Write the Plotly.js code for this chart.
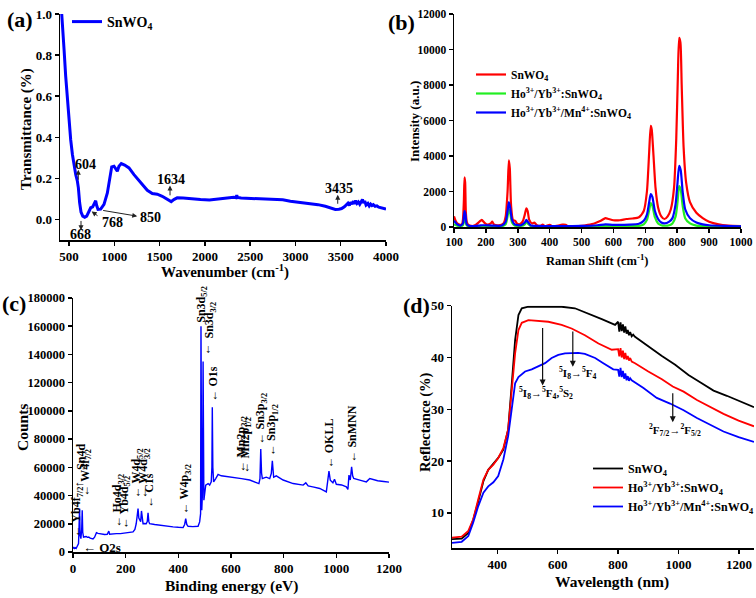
<!DOCTYPE html>
<html>
<head>
<meta charset="utf-8">
<script src="https://cdn.plot.ly/plotly-3.0.1.min.js"></script>
<style>
html,body{margin:0;padding:0;background:#fff;overflow:hidden;}
#chart{width:756px;height:598px;}
</style>
</head>
<body>
<div id="chart"></div>
<script>
// ---------- Panel (a): FTIR ----------
const ftirWavenumber = [419, 434, 445, 463, 482, 500, 518, 537, 555, 574, 592, 603, 617, 632, 651, 673, 695, 720, 739, 761, 783, 794, 805, 820, 849, 886, 923, 952, 971, 996, 1015, 1033, 1051, 1077, 1114, 1162, 1217, 1290, 1364, 1419, 1474, 1529, 1584, 1628, 1657, 1694, 1760, 1850, 1952, 2050, 2150, 2246, 2320, 2345, 2352, 2360, 2400, 2500, 2600, 2700, 2780, 2860, 2944, 3050, 3150, 3250, 3330, 3400, 3440, 3480, 3510, 3540, 3565, 3580, 3595, 3610, 3625, 3640, 3652, 3665, 3680, 3695, 3710, 3725, 3740, 3752, 3765, 3780, 3800, 3815, 3830, 3845, 3860, 3880, 3900, 3920, 3945, 3970, 4000];
const ftirTransmittance = [1.0, 0.914, 0.825, 0.696, 0.583, 0.485, 0.388, 0.316, 0.259, 0.218, 0.186, 0.154, 0.081, 0.036, 0.016, 0.011, 0.016, 0.036, 0.057, 0.061, 0.081, 0.091, 0.068, 0.049, 0.050, 0.073, 0.129, 0.210, 0.256, 0.259, 0.243, 0.235, 0.259, 0.272, 0.265, 0.251, 0.218, 0.178, 0.142, 0.126, 0.123, 0.113, 0.100, 0.087, 0.097, 0.105, 0.104, 0.100, 0.097, 0.095, 0.098, 0.104, 0.108, 0.106, 0.118, 0.107, 0.104, 0.102, 0.100, 0.100, 0.099, 0.096, 0.089, 0.084, 0.079, 0.072, 0.064, 0.055, 0.049, 0.050, 0.053, 0.062, 0.070, 0.079, 0.068, 0.084, 0.074, 0.089, 0.075, 0.092, 0.078, 0.085, 0.074, 0.083, 0.097, 0.080, 0.090, 0.070, 0.078, 0.066, 0.075, 0.068, 0.072, 0.064, 0.066, 0.060, 0.058, 0.055, 0.050];
const ftirPeaks = ['604', '668', '768', '850', '1634', '3435'];

// ---------- Panel (b): Raman ----------
const ramanShiftRed = [100, 105, 110, 120, 125, 128, 131, 133, 135, 137, 140, 145, 150, 160, 170, 180, 187, 195, 205, 215, 220, 225, 240, 255, 262, 268, 272, 275, 279, 285, 292, 297, 305, 315, 322, 327, 331, 336, 345, 352, 360, 370, 378, 385, 400, 410, 420, 440, 450, 460, 480, 500, 520, 540, 560, 575, 585, 600, 620, 640, 660, 680, 695, 705, 712, 717, 720, 725, 732, 740, 750, 760, 770, 780, 790, 797, 802, 806, 810, 814, 820, 828, 840, 860, 880, 900, 930, 960, 1000];
const ramanSnWO4 = [600, 350, 200, 120, 150, 400, 1500, 2800, 2500, 900, 300, 120, 80, 60, 150, 300, 400, 250, 130, 200, 300, 150, 100, 200, 600, 2000, 3750, 3300, 1200, 400, 350, 200, 150, 300, 700, 1050, 900, 400, 200, 250, 100, 60, 130, 50, 120, 40, 60, 130, 120, 30, 30, 60, 120, 200, 350, 500, 450, 380, 380, 450, 480, 550, 900, 2000, 4200, 5700, 5500, 4200, 2200, 1100, 600, 450, 600, 1000, 2200, 5000, 8500, 10650, 10400, 8000, 4500, 2500, 1400, 800, 500, 300, 150, 80, 50];
const ramanShiftDoped = [100, 110, 120, 128, 131, 133, 136, 140, 150, 180, 190, 220, 250, 262, 268, 272, 276, 282, 290, 310, 322, 327, 332, 340, 360, 400, 500, 550, 575, 600, 650, 680, 695, 705, 712, 717, 722, 730, 740, 750, 760, 775, 785, 795, 801, 806, 811, 817, 825, 840, 860, 880, 900, 950, 1000];
const ramanHoYb = [150, 80, 40, 100, 300, 500, 350, 80, 30, 40, 50, 40, 40, 150, 600, 1000, 800, 250, 80, 60, 150, 300, 180, 60, 40, 30, 30, 40, 60, 50, 50, 60, 150, 400, 950, 1350, 1200, 550, 200, 100, 70, 100, 200, 600, 1400, 2300, 2100, 1200, 500, 200, 80, 50, 40, 30, 20];
const ramanHoYbMn = [350, 150, 80, 200, 600, 900, 700, 150, 50, 80, 100, 80, 80, 300, 900, 1400, 1100, 400, 150, 100, 250, 400, 280, 100, 60, 50, 60, 100, 150, 120, 130, 180, 350, 700, 1400, 1850, 1700, 900, 450, 250, 200, 300, 500, 1300, 2500, 3450, 3200, 2000, 1000, 500, 250, 150, 100, 60, 40];

// ---------- Panel (c): XPS ----------
const xpsBinding = [0, 3, 6, 9, 12, 15, 18, 21, 23, 25, 27, 30, 33, 35, 37, 40, 45, 50, 55, 60, 65, 70, 76, 82, 89, 95, 101, 110, 120, 130, 136, 139, 142, 150, 165, 180, 195, 210, 228, 235, 240, 244, 247, 250, 253, 257, 260, 263, 266, 272, 278, 282, 285, 288, 291, 310, 329, 355, 380, 400, 418, 424, 428, 432, 437, 455, 475, 481, 484.5, 486, 487.5, 489, 491, 492.5, 494, 495.5, 497, 504, 513, 519, 525, 527.5, 529, 531, 534, 542, 551, 563, 585, 608, 640, 671, 696, 706, 710, 713, 716, 719, 726, 734, 747, 753, 757, 760, 762, 772, 798, 836, 874, 884, 893, 915, 937, 962, 968, 972, 977, 987, 993, 1000, 1020, 1038, 1044, 1048, 1053, 1058, 1062, 1066, 1089, 1114, 1127, 1157, 1180, 1200];
const xpsCounts = [2400, 3500, 2500, 3000, 2500, 3800, 5000, 6000, 18000, 30800, 12000, 9500, 16000, 29500, 14000, 10500, 10800, 11000, 10400, 10600, 9800, 9500, 9200, 10500, 13700, 13200, 13000, 12500, 12400, 12600, 14800, 12600, 12700, 12800, 13000, 13000, 13400, 13300, 14200, 16000, 20000, 26000, 30800, 24000, 22500, 21500, 29100, 22500, 20100, 20200, 20000, 21500, 27700, 21500, 20100, 19500, 18900, 18400, 17800, 17500, 17300, 19500, 23700, 19500, 18200, 18000, 18200, 21300, 27200, 160000, 40000, 29600, 39000, 60000, 135000, 50000, 36700, 47400, 48500, 47400, 49700, 60000, 102500, 60000, 49700, 52000, 55000, 54000, 53500, 53000, 52000, 51000, 49000, 48500, 52000, 73000, 56000, 52000, 52500, 53000, 52000, 55600, 64600, 56000, 53000, 54000, 51000, 48500, 47400, 49000, 46800, 46000, 45000, 42600, 49700, 57300, 50900, 49000, 51600, 48000, 47500, 46200, 44300, 54500, 51000, 60400, 54000, 52100, 50900, 49700, 52100, 50500, 50000, 49500];
const xpsLabels = ['Yb4f<sub>7/2</sub>', 'Sn4d', 'W4f<sub>7/2</sub>', 'O2s', 'Ho4d<sub>3/2</sub>', 'Yb4d<sub>5/2</sub>', 'W4d<sub>5/2</sub>', 'W4d<sub>3/2</sub>', 'C1s', 'W4p<sub>3/2</sub>', 'Sn3d<sub>5/2</sub>', 'Sn3d<sub>3/2</sub>', 'O1s', 'Mn2p<sub>3/2</sub>', 'Mn2p<sub>1/2</sub>', 'Sn3p<sub>3/2</sub>', 'Sn3p<sub>1/2</sub>', 'OKLL', 'SnMNN'];

// ---------- Panel (d): Diffuse reflectance ----------
const drsWavelengthBlack = [250, 282, 304, 320, 337, 354, 370, 387, 403, 420, 436, 448, 459, 470, 481, 503, 558, 613, 657, 701, 746, 790, 800, 804, 808, 812, 816, 820, 824, 828, 832, 836, 840, 845, 850, 856, 900, 945, 989, 1033, 1077, 1116, 1160, 1205, 1250];
const drsSnWO4 = [4.9, 5.0, 6.1, 8.6, 12.2, 16.1, 18.3, 19.6, 20.6, 22.2, 26.1, 35.0, 43.4, 48.2, 49.5, 49.8, 49.8, 49.8, 49.5, 48.5, 47.4, 46.3, 46.9, 45.0, 46.8, 45.1, 46.4, 44.8, 46.0, 44.6, 45.3, 44.3, 44.9, 44.1, 44.4, 44.0, 42.1, 40.3, 38.6, 36.6, 35.0, 33.6, 32.6, 31.5, 30.4];
const drsWavelengthRed = [250, 282, 304, 320, 337, 354, 370, 387, 403, 420, 436, 448, 459, 470, 481, 503, 525, 547, 569, 613, 646, 690, 735, 779, 800, 804, 808, 812, 816, 820, 824, 828, 832, 836, 840, 845, 856, 900, 945, 981, 1017, 1061, 1105, 1149, 1199, 1250];
const drsHoYb = [5.2, 5.4, 6.5, 8.7, 12.6, 16.4, 18.3, 19.3, 20.6, 22.5, 26.1, 33.8, 40.8, 45.3, 46.7, 47.2, 47.1, 46.9, 46.9, 46.3, 45.6, 44.3, 42.7, 41.5, 41.6, 40.2, 41.8, 40.0, 41.3, 39.7, 40.9, 39.6, 40.3, 39.4, 39.9, 39.2, 38.9, 37.3, 35.8, 34.4, 33.4, 31.8, 30.5, 29.1, 27.8, 26.7];
const drsWavelengthBlue = [250, 282, 304, 320, 337, 354, 370, 387, 403, 420, 436, 448, 459, 470, 492, 514, 536, 558, 580, 602, 624, 646, 668, 690, 724, 751, 784, 800, 804, 808, 812, 816, 820, 824, 828, 832, 836, 840, 845, 884, 928, 972, 1017, 1061, 1105, 1149, 1199, 1250];
const drsHoYbMn = [4.2, 4.4, 5.5, 8.1, 11.3, 13.9, 15.1, 15.9, 17.1, 20.3, 24.8, 30.5, 35.0, 36.2, 37.3, 37.7, 38.3, 38.9, 39.9, 40.5, 40.8, 40.9, 40.9, 40.7, 39.9, 38.9, 37.7, 37.6, 36.3, 38.0, 36.2, 37.4, 35.9, 36.9, 35.6, 36.4, 35.5, 36.0, 35.6, 34.1, 32.2, 31.1, 29.8, 28.3, 27.0, 25.7, 24.6, 23.7];

const seriesNames = ['SnWO<sub>4</sub>', 'Ho<sup>3+</sup>/Yb<sup>3+</sup>:SnWO<sub>4</sub>', 'Ho<sup>3+</sup>/Yb<sup>3+</sup>/Mn<sup>4+</sup>:SnWO<sub>4</sub>'];
const panelLetters = ['(a)', '(b)', '(c)', '(d)'];
const axisTitles = ['Wavenumber (cm<sup>-1</sup>)', 'Transmittance (%)', 'Raman Shift (cm<sup>-1</sup>)', 'Intensity (a.u.)',
  'Binding energy (eV)', 'Counts', 'Wavelength (nm)', 'Reflectance (%)'];

// ---------- build ----------
const FONT = '"Liberation Serif", "Times New Roman", serif';
const BLUE = '#0000ff', RED = '#ff0000', GREEN = '#22ee22', BLACK = '#000000';

const traces = [
  {x: ftirWavenumber, y: ftirTransmittance, xaxis: 'x', yaxis: 'y', mode: 'lines', name: seriesNames[0], line: {color: BLUE, width: 3}, legend: 'legend'},
  {x: ramanShiftRed, y: ramanSnWO4, xaxis: 'x2', yaxis: 'y2', mode: 'lines', name: seriesNames[0], line: {color: RED, width: 2.2, shape: 'spline', smoothing: 0.6}, legend: 'legend2'},
  {x: ramanShiftDoped, y: ramanHoYb, xaxis: 'x2', yaxis: 'y2', mode: 'lines', name: seriesNames[1], line: {color: GREEN, width: 2.2, shape: 'spline', smoothing: 0.6}, legend: 'legend2'},
  {x: ramanShiftDoped, y: ramanHoYbMn, xaxis: 'x2', yaxis: 'y2', mode: 'lines', name: seriesNames[2], line: {color: BLUE, width: 2.2, shape: 'spline', smoothing: 0.6}, legend: 'legend2'},
  {x: xpsBinding, y: xpsCounts, xaxis: 'x3', yaxis: 'y3', mode: 'lines', name: 'XPS', showlegend: false, line: {color: BLUE, width: 1.4}},
  {x: drsWavelengthBlack, y: drsSnWO4, xaxis: 'x4', yaxis: 'y4', mode: 'lines', name: seriesNames[0], line: {color: BLACK, width: 1.8}, legend: 'legend3'},
  {x: drsWavelengthRed, y: drsHoYb, xaxis: 'x4', yaxis: 'y4', mode: 'lines', name: seriesNames[1], line: {color: RED, width: 1.8}, legend: 'legend3'},
  {x: drsWavelengthBlue, y: drsHoYbMn, xaxis: 'x4', yaxis: 'y4', mode: 'lines', name: seriesNames[2], line: {color: BLUE, width: 1.8}, legend: 'legend3'}
];

function axis(extra, fsize) {
  return Object.assign({
    showline: true, linecolor: '#000', linewidth: 1.5, ticks: 'outside', ticklen: 4, tickwidth: 1.5,
    tickcolor: '#000', showgrid: false, zeroline: false, mirror: false, exponentformat: 'none', separatethousands: false,
    tickfont: {family: FONT, size: fsize || 13, color: '#000', weight: 'bold'}
  }, extra);
}
const W = 756, H = 598;
const px = v => v / W, py = v => 1 - v / H;

const annotations = [];
// panel letters
[[20, 20], [401, 23], [14, 303], [416, 305]].forEach((p, i) => {
  annotations.push({xref: 'paper', yref: 'paper', x: px(p[0]), y: py(p[1]), text: '<b>' + panelLetters[i] + '</b>',
    showarrow: false, font: {family: FONT, size: 22, color: '#000'}, xanchor: 'center', yanchor: 'middle'});
});
// axis titles (paper positions: [cx, cy, angle, size])
const titlePos = [[225, 272, 0, 15], [27, 129, -90, 15], [597, 260, 0, 12.5], [415, 122, -90, 13],
  [231, 586, 0, 15.5], [22, 428, -90, 15.5], [612, 582, 0, 15.5], [425, 422, -90, 14.5]];
titlePos.forEach((p, i) => annotations.push({xref: 'paper', yref: 'paper', x: px(p[0]), y: py(p[1]), text: axisTitles[i],
  textangle: p[2], showarrow: false, xanchor: 'center', yanchor: 'middle',
  font: {family: FONT, size: p[3], color: '#000', weight: 'bold'}}));

// panel (a) peak labels and arrows
const aFont = {family: FONT, size: 14, color: '#000', weight: 'bold'};
const aText = [[684, 0.267], [628, -0.073], [978, -0.013], [1400, 0.008], [1622, 0.194], [3478, 0.150]];
aText.forEach((p, i) => annotations.push({xref: 'x', yref: 'y', x: p[0], y: p[1], text: ftirPeaks[i], showarrow: false, font: aFont}));
const aArrows = [ // [tailX, tailY, headX, headY]
  [602, 0.186, 602, 0.242], [632, 0.0, 632, -0.052], [831, 0.013, 750, 0.039],
  [860, 0.045, 1253, 0.016], [1615, 0.110, 1615, 0.165], [3467, 0.069, 3467, 0.120]
];
aArrows.forEach(a => annotations.push({xref: 'x', yref: 'y', axref: 'x', ayref: 'y', x: a[2], y: a[3], ax: a[0], ay: a[1],
  text: '', showarrow: true, arrowhead: 2, arrowsize: 1, arrowwidth: 1, arrowcolor: '#222', standoff: 0, startstandoff: 0}));

// panel (c) labels: [label index, x, bottom y, prefix arrow]
const cFont = {family: FONT, size: 12, color: '#000', weight: 'bold'};
const cRot = [
  [0, 14, 9200, true], [1, 30, 56700, false], [2, 50, 37600, true], [4, 172, 16100, true], [5, 197, 15100, true],
  [6, 242, 36400, true], [7, 269, 36400, true], [8, 290, 29800, true], [9, 426, 25500, true],
  [10, 491, 160900, false], [11, 520, 150200, false], [12, 532, 104900, true], [13, 640, 54600, true],
  [14, 655, 54600, true], [15, 713, 74600, true], [16, 758, 66400, true], [17, 973, 58100, true], [18, 1060, 61700, true]
];
cRot.forEach(c => annotations.push({xref: 'x3', yref: 'y3', x: c[1], y: c[2], text: (c[3] ? '\u2190 ' : '') + xpsLabels[c[0]],
  textangle: -90, showarrow: false, xanchor: 'center', yanchor: 'bottom', font: cFont}));
annotations.push({xref: 'x3', yref: 'y3', x: 503, y: 138400, text: '\u2190', textangle: -90, showarrow: false, xanchor: 'center', yanchor: 'bottom', font: cFont});
annotations.push({xref: 'x3', yref: 'y3', x: 26, y: 49600, text: '\u2190', showarrow: false, xanchor: 'center', yanchor: 'middle', font: cFont});
annotations.push({xref: 'x3', yref: 'y3', x: 32, y: 3200, text: '\u2190 ' + xpsLabels[3], showarrow: false, xanchor: 'left', yanchor: 'middle', font: {family: FONT, size: 13, color: '#000', weight: 'bold'}});

// panel (d) transition labels and arrows
const dFont = {family: FONT, size: 11, color: '#000', weight: 'bold'};
const dLabels = ['<sup>5</sup>I<sub>8</sub>\u2192<sup>5</sup>F<sub>4</sub>,<sup>5</sup>S<sub>2</sub>', '<sup>5</sup>I<sub>8</sub>\u2192<sup>5</sup>F<sub>4</sub>', '<sup>2</sup>F<sub>7/2</sub>\u2192<sup>2</sup>F<sub>5/2</sub>'];
const dText = [[560, 33.2], [668, 37.0], [990, 26.0]];
dText.forEach((p, i) => annotations.push({xref: 'x4', yref: 'y4', x: p[0], y: p[1], text: dLabels[i], showarrow: false, font: dFont}));
const dArrows = [[550, 46.0, 550, 34.6], [650, 45.3, 650, 38.2], [981, 33.4, 981, 27.5]];
dArrows.forEach(a => annotations.push({xref: 'x4', yref: 'y4', axref: 'x4', ayref: 'y4', x: a[2], y: a[3], ax: a[0], ay: a[1],
  text: '', showarrow: true, arrowhead: 2, arrowsize: 1, arrowwidth: 1.2, arrowcolor: '#111', standoff: 0, startstandoff: 0}));

const legendFont = s => ({family: FONT, size: s, color: '#000', weight: 'bold'});

const layout = {
  width: W, height: H, margin: {l: 0, r: 0, t: 0, b: 0, autoexpand: false},
  paper_bgcolor: '#fff', plot_bgcolor: 'rgba(0,0,0,0)', showlegend: true,
  font: {family: FONT, color: '#000'},
  xaxis: axis({domain: [px(60), px(386)], range: [400, 4000], tickvals: [500, 1000, 1500, 2000, 2500, 3000, 3500, 4000], anchor: 'y'}, 13),
  yaxis: axis({domain: [py(240), py(14)], range: [-0.1, 1.0], tickvals: [0, 0.2, 0.4, 0.6, 0.8, 1.0], tickformat: '.1f', anchor: 'x'}, 13),
  xaxis2: axis({domain: [px(454), px(741)], range: [100, 1000], dtick: 100, tick0: 100, anchor: 'y2'}, 11.5),
  yaxis2: axis({domain: [py(227), py(14)], range: [0, 12000], dtick: 2000, tickformat: 'd', anchor: 'x2'}, 11.5),
  xaxis3: axis({domain: [px(73), px(389)], range: [0, 1200], dtick: 200, anchor: 'y3'}, 13),
  yaxis3: axis({domain: [py(552), py(298)], range: [0, 180000], dtick: 20000, tickformat: 'd', anchor: 'x3'}, 12.5),
  xaxis4: axis({domain: [px(452), px(754)], range: [250, 1250], tickvals: [400, 600, 800, 1000, 1200], anchor: 'y4'}, 13),
  yaxis4: axis({domain: [py(548), py(305.7)], range: [3.2, 50], tickvals: [10, 20, 30, 40, 50], anchor: 'x4'}, 13),
  legend: {x: px(67), y: py(6), xanchor: 'left', yanchor: 'top', bgcolor: 'rgba(0,0,0,0)', font: legendFont(14), borderwidth: 0},
  legend2: {x: px(471), y: py(60), xanchor: 'left', yanchor: 'top', bgcolor: 'rgba(0,0,0,0)', font: legendFont(11.5), borderwidth: 0, tracegroupgap: 0},
  legend3: {x: px(588), y: py(454), xanchor: 'left', yanchor: 'top', bgcolor: 'rgba(0,0,0,0)', font: legendFont(12), borderwidth: 0, tracegroupgap: 0},
  annotations: annotations
};

Plotly.newPlot('chart', traces, layout, {staticPlot: true, displayModeBar: false});
</script>
</body>
</html>
